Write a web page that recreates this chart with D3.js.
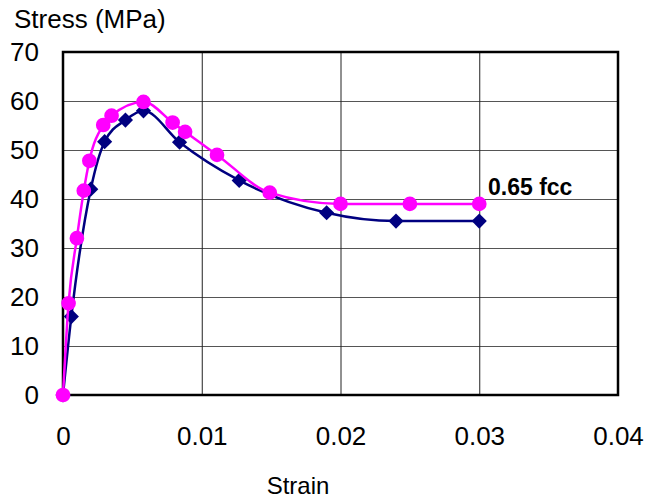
<!DOCTYPE html>
<html>
<head>
<meta charset="utf-8">
<script src="https://cdn.jsdelivr.net/npm/d3@7"></script>
<style>
  body { margin: 0; background: #fff; }
  svg { display: block; font-family: "Liberation Sans", Arial, sans-serif; }
</style>
</head>
<body>
<div id="chart"></div>
<script>
// Navy series (diamonds)
const strainA = [0, 0.0006, 0.002, 0.003, 0.0045, 0.0058, 0.0084, 0.0127, 0.019, 0.024, 0.03];
const stressA = [0, 16, 42, 51.7, 56.1, 58, 51.6, 43.8, 37.2, 35.5, 35.5];

// Magenta series (circles)
const strainB = [0, 0.0004, 0.001, 0.0015, 0.0019, 0.0029, 0.0035, 0.0058, 0.0079, 0.0088, 0.0111, 0.0149, 0.02, 0.025, 0.03];
const stressB = [0, 18.7, 32, 41.7, 47.8, 55.1, 57, 59.8, 55.6, 53.7, 49, 41.3, 39, 39, 39];

const xTicks = [0, 0.01, 0.02, 0.03, 0.04];
const yTicks = [0, 10, 20, 30, 40, 50, 60, 70];

const width = 652, height = 502;
const margin = { top: 52, right: 34, bottom: 107, left: 63 };
const w = width - margin.left - margin.right;
const h = height - margin.top - margin.bottom;

const svg = d3.select('#chart')
    .append('svg')
    .attr('width', width)
    .attr('height', height);

const x = d3.scaleLinear().domain([0, 0.04]).range([0, w]);
const y = d3.scaleLinear().domain([0, 70]).range([h, 0]);

const g = svg.append('g')
    .attr('transform', `translate(${margin.left},${margin.top})`);

// Grid lines
g.append('g')
    .call(d3.axisLeft(y).tickValues(yTicks).tickSize(-w).tickFormat(''))
    .call(s => s.select('.domain').remove())
    .selectAll('line')
    .attr('stroke', '#555')
    .attr('stroke-width', 1);

g.append('g')
    .attr('transform', `translate(0,${h})`)
    .call(d3.axisBottom(x).tickValues(xTicks).tickSize(-h).tickFormat(''))
    .call(s => s.select('.domain').remove())
    .selectAll('line')
    .attr('stroke', '#222')
    .attr('stroke-width', 1);

// Plot border
g.append('rect')
    .attr('width', w)
    .attr('height', h)
    .attr('fill', 'none')
    .attr('stroke', '#000')
    .attr('stroke-width', 2.5);

// Tick labels
g.append('g')
    .call(d3.axisLeft(y).tickValues(yTicks).tickSize(0).tickPadding(24).tickFormat(d3.format('d')))
    .call(s => s.select('.domain').remove())
    .selectAll('text')
    .attr('fill', '#000')
    .style('font-size', '26px');

g.append('g')
    .attr('transform', `translate(0,${h})`)
    .call(d3.axisBottom(x).tickValues(xTicks).tickSize(0).tickPadding(32).tickFormat(d => d === 0 ? '0' : d3.format('.2f')(d)))
    .call(s => s.select('.domain').remove())
    .selectAll('text')
    .attr('fill', '#000')
    .style('font-size', '26px');

// Series
function drawSeries(xs, ys, color, shape) {
    const pts = xs.map((v, i) => [v, ys[i]]);
    const line = d3.line()
        .x(d => x(d[0]))
        .y(d => y(d[1]))
        .curve(d3.curveMonotoneX);

    g.append('path')
        .datum(pts)
        .attr('d', line)
        .attr('fill', 'none')
        .attr('stroke', color)
        .attr('stroke-width', 2.5);

    g.append('g')
        .selectAll('path')
        .data(pts)
        .enter()
        .append('path')
        .attr('d', d3.symbol().type(shape).size(shape === d3.symbolCircle ? 170 : 115))
        .attr('transform', d => `translate(${x(d[0])},${y(d[1])})` + (shape === d3.symbolSquare ? ' rotate(45)' : ''))
        .attr('fill', color);
}

drawSeries(strainA, stressA, '#000080', d3.symbolSquare);
drawSeries(strainB, stressB, '#FF00FF', d3.symbolCircle);

// Annotation
g.append('text')
    .attr('x', 488 - margin.left)
    .attr('y', 195 - margin.top)
    .style('font-size', '23px')
    .style('font-weight', 'bold')
    .text('0.65 fcc');

// Axis titles
svg.append('text')
    .attr('x', 14)
    .attr('y', 28)
    .style('font-size', '26px')
    .text('Stress (MPa)');

svg.append('text')
    .attr('x', 298)
    .attr('y', 494)
    .attr('text-anchor', 'middle')
    .style('font-size', '24px')
    .text('Strain');
</script>
</body>
</html>
